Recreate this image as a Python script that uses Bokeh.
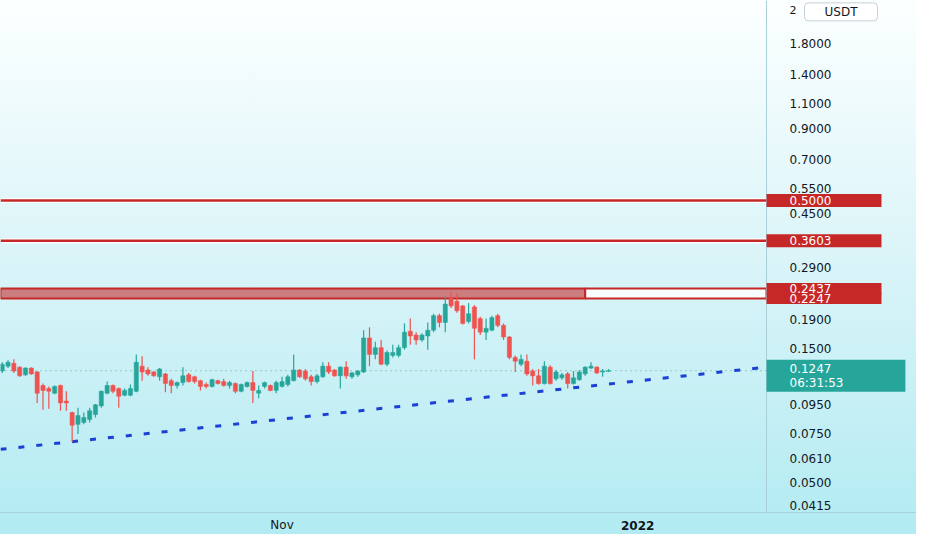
import numpy as np
import pandas as pd
from bokeh.plotting import figure
from bokeh.models import (Range1d, FixedTicker, PrintfTickFormatter, Label, Span,
                          ColumnDataSource, DatetimeAxis)
from bokeh.embed import file_html
from bokeh.resources import INLINE

# ---------------- data ----------------
start_date = "2021-09-14"
opens = [
    0.1244, 0.1294, 0.1325, 0.1284, 0.1206, 0.1274, 0.1234, 0.1105, 0.1079, 0.1038,
    0.1105, 0.0974, 0.0886, 0.0805, 0.0818, 0.0838, 0.0872, 0.0936, 0.1038, 0.1105,
    0.1079, 0.1021, 0.1021, 0.1054, 0.1294, 0.1254, 0.1234, 0.1187, 0.1215, 0.1150,
    0.1105, 0.1132, 0.1206, 0.1187, 0.1150, 0.1114, 0.1097, 0.1150, 0.1141, 0.1105,
    0.1123, 0.1054, 0.1097, 0.1132, 0.1038, 0.1097, 0.1105, 0.1062, 0.1097, 0.1114,
    0.1150, 0.1254, 0.1244, 0.1187, 0.1141, 0.1187, 0.1294, 0.1254, 0.1196, 0.1284,
    0.1187, 0.1206, 0.1234, 0.1629, 0.1424, 0.1505, 0.1315, 0.1413, 0.1413, 0.1505,
    0.1721, 0.1668, 0.1603, 0.1655, 0.1735, 0.1954, 0.1848, 0.2253, 0.2200, 0.2115,
    0.1863, 0.2098, 0.1908, 0.1708, 0.1735, 0.1954, 0.1805, 0.1642, 0.1390, 0.1315,
    0.1347, 0.1244, 0.1196, 0.1123, 0.1284, 0.1168, 0.1177, 0.1215, 0.1123, 0.1159,
    0.1215, 0.1274, 0.1284, 0.1234, 0.1240,
]
closes = [
    0.1315, 0.1336, 0.1244, 0.1196, 0.1274, 0.1215, 0.1038, 0.1062, 0.1054, 0.1097,
    0.0959, 0.0959, 0.0799, 0.0865, 0.0851, 0.0900, 0.0944, 0.1054, 0.1105, 0.1054,
    0.1013, 0.1062, 0.1079, 0.1336, 0.1234, 0.1215, 0.1196, 0.1264, 0.1123, 0.1105,
    0.1132, 0.1196, 0.1141, 0.1141, 0.1097, 0.1097, 0.1159, 0.1123, 0.1105, 0.1132,
    0.1054, 0.1114, 0.1132, 0.1062, 0.1062, 0.1132, 0.1062, 0.1132, 0.1141, 0.1187,
    0.1254, 0.1187, 0.1168, 0.1141, 0.1196, 0.1294, 0.1234, 0.1196, 0.1284, 0.1196,
    0.1225, 0.1244, 0.1629, 0.1424, 0.1505, 0.1315, 0.1447, 0.1447, 0.1505, 0.1708,
    0.1655, 0.1603, 0.1668, 0.1735, 0.1954, 0.1848, 0.2148, 0.2115, 0.2033, 0.1834,
    0.1985, 0.1763, 0.1708, 0.1763, 0.1923, 0.1805, 0.1642, 0.1390, 0.1347, 0.1368,
    0.1215, 0.1196, 0.1123, 0.1294, 0.1123, 0.1234, 0.1206, 0.1123, 0.1177, 0.1234,
    0.1284, 0.1294, 0.1225, 0.1244, 0.1247,
]
highs = [
    0.1336, 0.1357, 0.1368, 0.1294, 0.1284, 0.1284, 0.1244, 0.1123, 0.1097, 0.1105,
    0.1114, 0.1054, 0.0893, 0.0921, 0.0886, 0.0921, 0.0951, 0.1062, 0.1141, 0.1114,
    0.1088, 0.1079, 0.1114, 0.1424, 0.1402, 0.1284, 0.1244, 0.1274, 0.1225, 0.1168,
    0.1141, 0.1284, 0.1225, 0.1196, 0.1159, 0.1132, 0.1168, 0.1159, 0.1168, 0.1150,
    0.1132, 0.1123, 0.1141, 0.1244, 0.1105, 0.1141, 0.1114, 0.1150, 0.1187, 0.1206,
    0.1424, 0.1264, 0.1264, 0.1206, 0.1215, 0.1336, 0.1336, 0.1264, 0.1294, 0.1347,
    0.1234, 0.1254, 0.1735, 0.1777, 0.1578, 0.1603, 0.1470, 0.1541, 0.1541, 0.1834,
    0.1908, 0.1708, 0.1694, 0.1848, 0.1985, 0.1985, 0.2289, 0.2381, 0.2344, 0.2132,
    0.2165, 0.2132, 0.1938, 0.1908, 0.1954, 0.1985, 0.1834, 0.1655, 0.1413, 0.1424,
    0.1424, 0.1264, 0.1264, 0.1347, 0.1305, 0.1254, 0.1225, 0.1234, 0.1244, 0.1254,
    0.1294, 0.1336, 0.1294, 0.1264, 0.1264,
]
lows = [
    0.1225, 0.1274, 0.1225, 0.1187, 0.1196, 0.1206, 0.0959, 0.0907, 0.0914, 0.1030,
    0.0900, 0.0900, 0.0699, 0.0744, 0.0805, 0.0818, 0.0851, 0.0921, 0.1030, 0.1038,
    0.0921, 0.1013, 0.1013, 0.1046, 0.1150, 0.1196, 0.1187, 0.1150, 0.1046, 0.1038,
    0.1079, 0.1105, 0.1132, 0.1123, 0.1062, 0.1079, 0.1088, 0.1114, 0.1097, 0.1079,
    0.1038, 0.1046, 0.1088, 0.0959, 0.0997, 0.1079, 0.1054, 0.1038, 0.1088, 0.1097,
    0.1141, 0.1177, 0.1150, 0.1105, 0.1123, 0.1177, 0.1215, 0.1187, 0.1079, 0.1168,
    0.1168, 0.1187, 0.1225, 0.1294, 0.1368, 0.1305, 0.1294, 0.1390, 0.1390, 0.1481,
    0.1541, 0.1541, 0.1578, 0.1481, 0.1708, 0.1777, 0.1708, 0.2082, 0.2001, 0.1819,
    0.1834, 0.1368, 0.1668, 0.1603, 0.1721, 0.1777, 0.1603, 0.1368, 0.1234, 0.1294,
    0.1196, 0.1105, 0.1114, 0.1114, 0.1114, 0.1150, 0.1159, 0.1079, 0.1114, 0.1150,
    0.1196, 0.1264, 0.1215, 0.1187, 0.1234,
]

price_ticks = [1.8, 1.4, 1.1, 0.9, 0.7, 0.55, 0.45, 0.29, 0.19, 0.15,
               0.095, 0.075, 0.061, 0.05, 0.0415]
resistance_levels = [0.5000, 0.3603]
zone_top = 0.2437
zone_bottom = 0.2247
zone_end = "2021-12-23"
last_price = 0.1247
countdown = "06:31:53"
trend_dates = ["2021-09-26", "2021-12-20"]
trend_prices = [0.0699, 0.1079]
x_tick_dates = ["2021-11-01", "2022-01-01"]
x_tick_labels = ["Nov", "2022"]
quote_currency = "USDT"

# ---------------- layout constants ----------------
DAY = 86400000.0
def ms(d):
    return pd.Timestamp(d).value / 1e6

W, H = 916, 534
BOTTOM = 22
CHART_W = 766            # width of the candle pane; the rest is the price scale
SCALE_TXT = 789          # left edge of price-scale texts
PAD_L = SCALE_TXT - CHART_W

dates = pd.date_range(start_date, periods=len(opens), freq="D")
xs = np.array([ms(d) for d in dates])
x0 = ms(start_date) - 0.29 * DAY
xb = ms(start_date) + 131.1 * DAY            # pane / scale boundary
x1 = x0 + (xb - x0) * W / CHART_W            # whole canvas width
y0, y1 = 0.03922, 2.556

UP = "#26a69a"
DOWN = "#ef5350"
RED = "#c62828"
TXT = "#131722"
SEP = "#a9d0d8"
FONT = "DejaVu Sans"

p = figure(width=W, height=H, x_axis_type="datetime", y_axis_type="log",
           y_axis_location="right", output_backend="svg", toolbar_location=None,
           x_range=Range1d(x0, x1), y_range=Range1d(y0, y1),
           min_border_left=0, min_border_top=0,
           min_border_right=0, min_border_bottom=BOTTOM)
p.background_fill_alpha = 0
p.border_fill_alpha = 0
p.outline_line_color = None
p.styles = {"background": "linear-gradient(to bottom, #fcffff 0%, #d9f4f8 50%, #b2ebf2 100%)"}
p.grid.visible = False

# price scale (labels drawn inwards, into the scale column)
ya = p.yaxis[0]
ya.ticker = FixedTicker(ticks=price_ticks)
ya.formatter = PrintfTickFormatter(format="%.4f")
ya.major_tick_line_color = None
ya.minor_tick_line_color = None
ya.major_tick_out = 0
ya.major_tick_in = 0
ya.minor_tick_out = 0
ya.minor_tick_in = 0
ya.axis_line_color = None
ya.major_label_standoff = SCALE_TXT - W
ya.major_label_text_font = FONT
ya.major_label_text_font_size = "12px"
ya.major_label_text_color = TXT

# time scale
xa = p.xaxis[0]
nov_ms = ms(x_tick_dates[0])
jan_ms = ms(x_tick_dates[1])
xa.ticker = FixedTicker(ticks=[nov_ms])
xa.major_label_overrides = {nov_ms: x_tick_labels[0]}
xa.major_tick_line_color = None
xa.minor_tick_line_color = None
xa.major_tick_out = 0
xa.major_tick_in = 0
xa.minor_tick_out = 0
xa.minor_tick_in = 0
xa.axis_line_color = SEP
xa.major_label_standoff = 5
xa.major_label_text_font = FONT
xa.major_label_text_font_size = "12px"
xa.major_label_text_color = TXT

xa2 = DatetimeAxis(ticker=FixedTicker(ticks=[jan_ms]),
                   major_label_overrides={jan_ms: x_tick_labels[1]})
xa2.major_tick_line_color = None
xa2.minor_tick_line_color = None
xa2.major_tick_out = 0
xa2.major_tick_in = 0
xa2.minor_tick_out = 0
xa2.minor_tick_in = 0
xa2.axis_line_color = None
xa2.major_label_text_font = FONT
xa2.major_label_text_font_size = "12px"
xa2.major_label_text_font_style = "bold"
xa2.major_label_text_color = TXT
xa2.major_label_standoff = -14
p.add_layout(xa2, "below")

# pane / scale separator
p.add_layout(Span(location=xb, dimension="height", line_color=SEP, line_width=1))

# zone rectangle
p.quad(left=[x0], right=[ms(zone_end)], bottom=[zone_bottom], top=[zone_top],
       fill_color=RED, fill_alpha=0.58, line_color=RED, line_width=2)
p.quad(left=[ms(zone_end)], right=[xb], bottom=[zone_bottom], top=[zone_top],
       fill_color="white", fill_alpha=0.85, line_color=RED, line_width=2)

# resistance lines
lv = np.array(resistance_levels)
p.segment(x0=x0, x1=xb, y0=lv, y1=lv, line_color="white", line_width=5, line_alpha=0.9)
p.segment(x0=x0, x1=xb, y0=lv, y1=lv, line_color=RED, line_width=2.5)

# last price dotted line
p.segment(x0=[x0], x1=[xb], y0=[last_price], y1=[last_price], line_color="#5fa8a0",
          line_width=1, line_dash="1 4")

# trend line (straight on log scale, extended to the pane edges)
tx = np.array([ms(d) for d in trend_dates])
ty = np.log(np.array(trend_prices))
slope = (ty[1] - ty[0]) / (tx[1] - tx[0])
ex = np.array([x0, xb])
ey = np.exp(ty[0] + slope * (ex - tx[0]))
p.line(ex, ey, line_color="#1c3fd6", line_width=3, line_dash="6 12")

# candles
o = np.array(opens); c = np.array(closes)
colors = [UP if cc >= oo else DOWN for oo, cc in zip(o, c)]
src = ColumnDataSource(dict(x=xs, open=o, close=c, high=highs, low=lows, color=colors))
p.segment(x0="x", y0="high", x1="x", y1="low", line_color="color", line_width=1.2, source=src)
p.vbar(x="x", width=0.72 * DAY, top="close", bottom="open", fill_color="color",
       line_color="color", line_width=0.5, source=src)

# price tags on the scale  (padding: left, right, top, bottom)
def tag(text, y, color, right_pad, y_offset=0, size="12px", vpad=2):
    return Label(x=CHART_W, y=y, x_units="screen", y_units="data", text=text,
                 text_color="white", text_font=FONT, text_font_size=size,
                 text_line_height=1.0,
                 text_align="left", text_baseline="middle", y_offset=y_offset,
                 background_fill_color=color, background_fill_alpha=1.0,
                 padding=(PAD_L, right_pad, vpad, vpad))

for lvl in resistance_levels:
    p.add_layout(tag(f"{lvl:.4f}", lvl, RED, 50))
p.add_layout(tag(f"{zone_top:.4f}", zone_top, RED, 50, vpad=1))
p.add_layout(tag(f"{zone_bottom:.4f}", zone_bottom, RED, 50, vpad=1))
p.add_layout(tag(f"{last_price:.4f}\n{countdown}", last_price, UP, 62, y_offset=-5))

# "2" and currency button at the top of the scale
p.add_layout(Label(x=SCALE_TXT, y=2.36, x_units="screen", y_units="data", text="2",
                   text_color=TXT, text_font=FONT, text_font_size="11px",
                   text_align="left", text_baseline="middle"))
p.add_layout(Label(x=SCALE_TXT + 15, y=2.33, x_units="screen", y_units="data", text=quote_currency,
                   text_color=TXT, text_font=FONT, text_font_size="12px",
                   text_align="left", text_baseline="middle",
                   background_fill_color="white", background_fill_alpha=0.9,
                   border_line_color="#c8d0d6", border_line_width=1,
                   border_radius=4, padding=(20, 20, 2, 2)))

open("out.html", "w").write(file_html(p, INLINE))
